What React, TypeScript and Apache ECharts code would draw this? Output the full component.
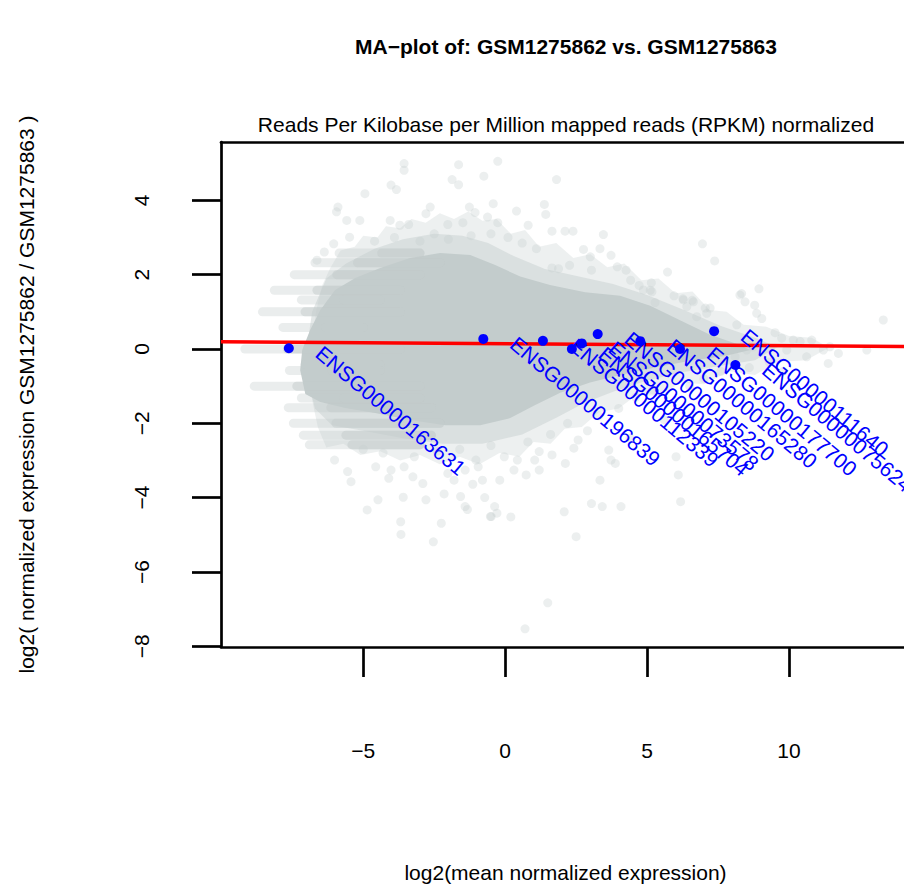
import React, { useEffect, useRef } from "react";
import * as echarts from "echarts";

const mainTitle = "MA\u2212plot of: GSM1275862 vs. GSM1275863";
const subTitle = "Reads Per Kilobase per Million mapped reads (RPKM) normalized";
const xTitle = "log2(mean normalized expression)";
const yTitle = "log2( normalized expression GSM1275862 / GSM1275863 )";

const xTicks = [-5, 0, 5, 10];
const yTicks = [-8, -6, -4, -2, 0, 2, 4];

const geneNames = [
  "ENSG00000163631",
  "ENSG00000196839",
  "ENSG00000112339",
  "ENSG00000165704",
  "ENSG00000073578",
  "ENSG00000105220",
  "ENSG00000165280",
  "ENSG00000177700",
  "ENSG00000111640",
  "ENSG00000075624",
];
const geneX = [-7.62, -0.77, 1.33, 2.35, 2.7, 3.26, 4.76, 6.16, 7.36, 8.11];
const geneY = [0.02, 0.27, 0.22, 0.0, 0.15, 0.4, 0.21, 0.0, 0.48, -0.43];

const fitLine = [
  [-10.01, 0.196],
  [14.05, 0.067],
];

// outer, lightly speckled envelope of the cloud
const cloudHalo = [
  [-6.16, 2.18], [-5.8, 2.65], [-5.3, 2.75], [-5.0, 3.05], [-4.5, 3.0], [-4.2, 3.3],
  [-3.7, 3.25], [-3.3, 3.5], [-2.8, 3.4], [-2.3, 3.65], [-1.8, 3.5], [-1.3, 3.7],
  [-0.8, 3.45], [-0.3, 3.5], [0.2, 3.1], [0.7, 3.2], [1.2, 2.75], [1.8, 2.85],
  [2.4, 2.45], [3.0, 2.55], [3.6, 2.2], [4.2, 2.3], [4.8, 1.85], [5.4, 1.9],
  [6.0, 1.5], [6.6, 1.55], [7.2, 1.05], [7.8, 1.0], [8.4, 0.65], [9.2, 0.6],
  [10.0, 0.35], [10.8, 0.3], [11.4, 0.03], [10.6, -0.3], [9.6, -0.35], [8.8, -0.7],
  [7.9, -0.6], [7.0, -0.95], [6.2, -0.9], [5.4, -1.25], [4.6, -1.25], [4.0, -1.6],
  [3.3, -1.7], [2.7, -2.1], [2.1, -2.15], [1.6, -2.55], [1.0, -2.5], [0.5, -2.9],
  [-0.2, -2.8], [-0.9, -3.1], [-1.6, -2.9], [-2.3, -3.1], [-3.0, -2.85], [-3.7, -3.0],
  [-4.4, -2.75], [-5.1, -2.85], [-5.7, -2.55], [-6.3, -2.65], [-6.6, -2.1], [-6.8, -1.37],
  [-6.87, -0.57], [-6.8, 0.24], [-6.65, 1.05], [-6.44, 1.72],
];

// intermediate density envelope
const cloudMid = [
  [-6.3, 1.9], [-5.6, 2.3], [-4.6, 2.7], [-3.6, 2.95], [-2.5, 3.1], [-1.5, 3.05],
  [-0.6, 2.85], [0.3, 2.5], [1.4, 2.15], [2.6, 1.95], [3.8, 1.75], [5.0, 1.45],
  [6.3, 1.05], [7.6, 0.62], [8.8, 0.3], [9.6, 0.05], [8.8, -0.3], [7.6, -0.45],
  [6.3, -0.62], [5.0, -0.85], [3.8, -1.15], [2.8, -1.45], [1.8, -1.85], [0.6, -2.3],
  [-0.8, -2.55], [-2.2, -2.55], [-3.6, -2.4], [-5.0, -2.2], [-6.1, -2.05], [-6.7, -1.6],
  [-6.95, -0.8], [-6.95, 0.2], [-6.8, 1.0],
];

// saturated core of the cloud
const cloudCore = [
  [-5.99, 1.59], [-5.28, 1.91], [-4.4, 2.18], [-3.35, 2.45], [-2.29, 2.58], [-1.23, 2.53],
  [-0.35, 2.26], [0.53, 1.95], [1.58, 1.72], [2.82, 1.53], [4.05, 1.43], [5.11, 1.16],
  [6.27, 0.73], [7.22, 0.38], [8.27, 0.11], [8.63, -0.03], [7.75, -0.19], [6.51, -0.32],
  [5.28, -0.5], [4.05, -0.7], [2.99, -0.9], [1.94, -1.18], [1.06, -1.51], [0.18, -1.86],
  [-0.88, -2.05], [-2.11, -2.05], [-3.35, -1.91], [-4.58, -1.72], [-5.63, -1.59],
  [-6.51, -1.43], [-7.04, -1.21], [-7.22, -0.57], [-7.15, -0.03], [-6.87, 0.51], [-6.51, 1.05],
];

// rows of discrete ratios at low expression: [log2 ratio, first x, last x]
const stripeRows = [
  [2.58, -5.85, -3.0],
  [2.32, -6.7, -2.3],
  [2.0, -7.43, -3.0],
  [1.58, -8.13, -3.7],
  [1.32, -7.18, -4.4],
  [1.0, -8.55, -3.7],
  [0.58, -7.83, -5.0],
  [0.0, -9.17, -3.7],
  [-0.42, -7.05, -4.4],
  [-0.58, -7.6, -4.4],
  [-1.0, -8.84, -3.0],
  [-1.32, -7.18, -3.0],
  [-1.58, -7.64, -2.6],
  [-2.0, -7.46, -2.3],
  [-2.32, -7.11, -2.6],
  [-2.58, -6.9, -3.0],
];

// isolated genes outside the dense cloud
const sparsePoints = [
  [-3.56, 4.99], [-3.56, 4.81], [-1.64, 4.96], [-0.26, 5.05], [-0.75, 4.65], [-1.87, 4.56],
  [-1.64, 4.42], [1.81, 4.56], [-4.02, 4.41], [-3.83, 4.29], [-4.94, 4.18], [-5.89, 3.82],
  [-5.94, 3.69], [-2.64, 3.82], [-1.26, 3.82], [-1.06, 3.67], [-0.42, 3.91], [0.4, 3.71],
  [1.38, 3.89], [1.43, 3.62], [-0.62, 3.55], [-0.26, 3.4], [-2.79, 3.64], [-5.58, 3.46],
  [-5.12, 3.46], [-4.05, 3.46], [-3.71, 3.33], [-3.4, 3.35], [-2.02, 3.35], [-1.49, 3.4],
  [0.81, 3.33], [1.65, 3.17], [2.11, 3.17], [2.39, 3.17], [3.46, 3.08], [6.95, 2.83],
  [7.38, 2.37], [2.76, 2.68], [3.0, 2.48], [3.34, 2.7], [3.73, 2.52], [2.27, 2.25],
  [1.88, 2.16], [1.65, 2.18], [3.04, 2.12], [3.95, 2.21], [4.26, 2.12], [5.72, 2.07],
  [5.15, 1.78], [5.11, 1.58], [5.95, 1.43], [6.26, 1.35], [6.59, 1.31], [7.05, 1.1],
  [8.33, 1.49], [8.79, 1.18], [8.94, 1.62], [4.42, 1.85], [4.72, 1.71], [-6.04, 2.83],
  [-6.37, 2.61], [-5.48, 3.01], [-6.63, 2.39], [-4.6, 2.9], [-3.9, 3.0], [-3.0, 2.9],
  [-2.5, 3.1], [-2.0, 2.95], [-1.2, 3.05], [-0.5, 3.1], [0.1, 3.0], [0.6, 2.85], [1.1, 2.7],
  [8.27, 1.45], [8.45, 1.27], [9.04, 0.82], [8.86, 0.96], [8.16, 0.65], [9.51, 0.44],
  [9.74, 0.29], [10.15, 0.24], [10.39, 0.2], [10.8, 0.24], [11.21, -0.03], [11.44, 0.06],
  [11.74, -0.12], [11.38, -0.39], [10.62, -0.21], [9.92, -0.03], [12.74, -0.03], [13.32, 0.78],
  [8.1, -0.21], [8.51, -0.03], [8.74, 0.06], [7.1, 0.96], [6.75, 0.87], [7.22, 1.1],
  [6.63, 1.27], [6.28, 1.32], [6.4, 1.14], [5.17, 1.54], [5.28, 1.25], [4.87, 1.59],
  [7.6, -0.6], [8.6, -0.5], [9.3, -0.35], [7.0, -0.8], [6.5, -1.0], [9.8, -0.6],
  [-6.01, -2.99], [-5.55, -3.3], [-5.43, -3.57], [-4.86, -4.33], [-4.48, -4.06], [-3.68, -4.65],
  [-3.67, -4.99], [-3.59, -3.99], [-2.79, -4.06], [-2.53, -5.19], [-2.25, -4.69], [-2.15, -3.9],
  [-1.57, -3.97], [-1.41, -4.24], [-0.72, -4.0], [-0.49, -4.51], [-0.37, -4.24], [-0.29, -4.42],
  [-1.14, -3.64], [-0.8, -3.53], [-2.9, -3.62], [-3.25, -3.44], [-4.02, -3.26], [-3.56, -3.17],
  [-4.1, -3.48], [-4.56, -3.17], [0.74, -3.39], [1.2, -3.26], [-0.19, -3.53], [0.31, -3.26],
  [2.12, -3.08], [1.65, -2.85], [1.2, -2.76], [2.08, -4.38], [2.5, -5.05], [3.04, -4.16],
  [3.42, -4.24], [4.08, -4.24], [3.34, -3.53], [2.57, -2.45], [2.42, -2.67], [3.65, -2.72],
  [3.73, -2.99], [3.88, -3.08], [6.1, -3.39], [6.18, -4.11], [6.02, -2.9], [1.04, -2.99],
  [0.43, -2.99], [-0.03, -2.9], [-1.41, -3.26], [-0.95, -3.17], [-1.03, -2.99], [-2.02, -3.35],
  [-1.8, -3.53], [1.5, -6.83], [0.7, -7.53], [-1.33, -4.32], [-0.52, -4.51], [0.2, -4.52],
  [-5.0, -2.7], [-4.3, -2.8], [-3.2, -2.9], [-2.4, -2.75], [-1.6, -2.7], [-0.5, -2.6],
  [0.8, -2.5], [1.6, -2.3], [2.2, -2.0], [2.9, -2.2], [3.3, -1.8], [4.0, -1.6], [4.6, -1.3],
  [5.2, -1.1], [5.6, -1.9], [4.4, -2.4],
];

const FONT = '"Liberation Sans", Arial, Helvetica, sans-serif';
const CLOUD = "195,204,204";
const X_MIN = -10.01;
const X_MAX = 14.05;

const fmtMinus = (v: number) => (v < 0 ? "\u2212" + Math.abs(v) : String(v));

export default function App() {
  const ref = useRef<HTMLDivElement>(null);

  useEffect(() => {
    document.body.style.margin = "0";
    if (!ref.current) return;
    const chart = echarts.init(ref.current, null, { renderer: "svg" });

    const polygonSeries = (outline: number[][], fill: string, z: number) => ({
      type: "custom",
      z,
      silent: true,
      data: [outline[0]],
      renderItem: (_p: any, api: any) => ({
        type: "polygon",
        shape: { points: outline.map((pt) => api.coord(pt)) },
        style: { fill },
      }),
    });

    const frameLine = { show: true, onZero: false, lineStyle: { color: "#000", width: 2.7 } };

    const option: any = {
      animation: false,
      grid: {
        left: 221,
        top: 142,
        right: 0,
        height: 505,
        show: false,
      },
      xAxis: [
        {
          type: "value",
          min: X_MIN,
          max: X_MAX,
          splitLine: { show: false },
          axisLine: frameLine,
          axisTick: {
            show: true,
            length: 30,
            customValues: xTicks,
            lineStyle: { color: "#000", width: 2.7 },
          },
          axisLabel: {
            customValues: xTicks,
            formatter: fmtMinus,
            margin: 103,
            color: "#000",
            fontSize: 21,
            fontFamily: FONT,
            verticalAlign: "middle",
          },
          name: xTitle,
          nameLocation: "middle",
          nameGap: 225,
          nameTextStyle: {
            color: "#000",
            fontSize: 21,
            fontFamily: FONT,
            verticalAlign: "middle",
            align: "center",
            padding: [0, 0, 0, 6],
          },
        },
        {
          type: "value",
          position: "top",
          min: X_MIN,
          max: X_MAX,
          splitLine: { show: false },
          axisLine: frameLine,
          axisTick: { show: false },
          axisLabel: { show: false },
        },
      ],
      yAxis: {
        type: "value",
        min: -8.02,
        max: 5.57,
        splitLine: { show: false },
        axisLine: frameLine,
        axisTick: {
          show: true,
          length: 29,
          customValues: yTicks,
          lineStyle: { color: "#000", width: 2.7 },
        },
        axisLabel: {
          customValues: yTicks,
          formatter: fmtMinus,
          rotate: 90,
          margin: 80,
          color: "#000",
          fontSize: 21,
          fontFamily: FONT,
          align: "center",
          verticalAlign: "middle",
        },
        name: yTitle,
        nameLocation: "middle",
        nameRotate: 90,
        nameGap: 195,
        nameTextStyle: {
          color: "#000",
          fontSize: 21,
          fontFamily: FONT,
          verticalAlign: "middle",
          align: "center",
        },
      },
      graphic: [
        {
          type: "text",
          x: 566,
          y: 46,
          style: {
            text: mainTitle,
            font: `bold 21px ${FONT}`,
            fill: "#000",
            align: "center",
            verticalAlign: "middle",
          },
        },
        {
          type: "text",
          x: 566,
          y: 124,
          style: {
            text: subTitle,
            font: `21px ${FONT}`,
            fill: "#000",
            align: "center",
            verticalAlign: "middle",
          },
        },
      ],
      series: [
        polygonSeries(cloudHalo, `rgba(${CLOUD},0.3)`, 1),
        polygonSeries(cloudMid, `rgba(${CLOUD},0.45)`, 1),
        polygonSeries(cloudCore, `rgb(${CLOUD})`, 2),
        {
          type: "custom",
          z: 3,
          silent: true,
          data: stripeRows,
          encode: { x: [1, 2], y: 0 },
          renderItem: (_p: any, api: any) => {
            const yv = api.value(0);
            const x0 = api.value(1);
            const x1 = api.value(2);
            const a = api.coord([x0, yv]);
            const b = api.coord([x1, yv]);
            const c = api.coord([Math.min(x0 + 1.5, x1), yv]);
            return {
              type: "group",
              children: [
                {
                  type: "rect",
                  shape: { x: a[0] - 4.5, y: a[1] - 4.5, width: b[0] - a[0] + 9, height: 9, r: 4.5 },
                  style: { fill: `rgba(${CLOUD},0.35)` },
                },
                {
                  type: "rect",
                  shape: { x: c[0] - 4.5, y: c[1] - 4.5, width: b[0] - c[0] + 9, height: 9, r: 4.5 },
                  style: { fill: `rgba(${CLOUD},0.5)` },
                },
              ],
            };
          },
        },
        {
          type: "scatter",
          z: 4,
          silent: true,
          symbol: "circle",
          symbolSize: 9,
          data: sparsePoints,
          itemStyle: { color: `rgba(${CLOUD},0.32)`, opacity: 1 },
        },
        {
          type: "line",
          z: 5,
          silent: true,
          data: fitLine,
          symbol: "none",
          lineStyle: { color: "#FF0000", width: 3.5 },
        },
        {
          type: "scatter",
          z: 6,
          silent: true,
          symbol: "circle",
          symbolSize: 10,
          data: geneX.map((x, i) => [x, geneY[i]]),
          itemStyle: { color: "#0000FF", opacity: 1 },
        },
        {
          type: "custom",
          z: 7,
          silent: true,
          data: geneX.map((x, i) => [x, geneY[i]]),
          renderItem: (params: any, api: any) => {
            const p = api.coord([api.value(0), api.value(1)]);
            return {
              type: "text",
              x: p[0] + 30,
              y: p[1] + 2,
              rotation: (-40 * Math.PI) / 180,
              style: {
                text: geneNames[params.dataIndex],
                fill: "#0000FF",
                font: `21px ${FONT}`,
                align: "left",
                verticalAlign: "middle",
              },
            };
          },
        },
      ],
    };

    chart.setOption(option);
    return () => chart.dispose();
  }, []);

  return <div ref={ref} style={{ width: 904, height: 888 }} />;
}
